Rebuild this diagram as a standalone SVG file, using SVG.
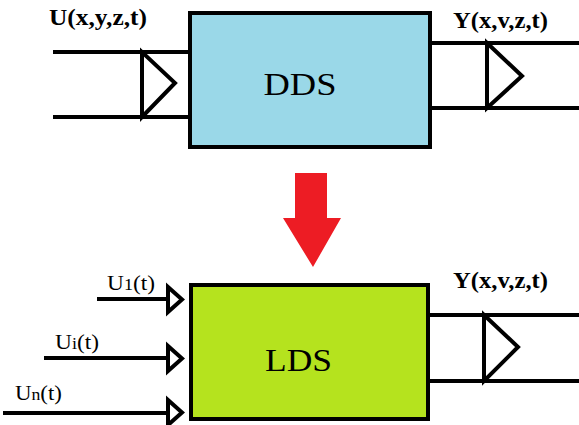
<svg xmlns="http://www.w3.org/2000/svg" width="579" height="425" viewBox="0 0 579 425">
<style>
.ln{stroke:#000;stroke-width:4;fill:none;stroke-linejoin:miter}
.box{stroke:#000;stroke-width:4}
.lbl{font-family:"Liberation Serif",serif;font-weight:bold;font-size:23px;fill:#000}
.sub{font-family:"Liberation Serif",serif;font-size:22px;fill:#000}
.big{font-family:"Liberation Serif",serif;font-size:31px;fill:#000}
</style>
<rect width="579" height="425" fill="#fff"/>
<g id="connectors">
  <path class="ln" d="M53 52H190M53 117H190M142 52V117L175 83Z"/>
  <path class="ln" d="M430 43H579M430 108H579M487 43V108L522 76Z"/>
  <path class="ln" d="M428 315H579M428 381H579M484 315V381L518 347Z"/>
  <path class="ln" d="M97 299H167M44 358H167M3 413H167"/>
  <path class="ln" d="M168 287V312L182 299.5Z"/>
  <path class="ln" d="M168 346V371L182 358.5Z"/>
  <path class="ln" d="M168 400V425L182 412.5Z"/>
  <polygon points="295,173 327,173 327,218 341,218 313,267 283,218 295,218" fill="#ED1C24"/>
</g>
<g id="dds">
  <rect class="box" x="190" y="13" width="240" height="134" fill="#9AD8E8"/>
  <text class="big" x="300" y="95" text-anchor="middle" textLength="73" lengthAdjust="spacingAndGlyphs">DDS</text>
</g>
<g id="lds">
  <rect class="box" x="191" y="285" width="237" height="134" fill="#B5E31E"/>
  <text class="big" x="298.5" y="371" text-anchor="middle" textLength="67" lengthAdjust="spacingAndGlyphs">LDS</text>
</g>
<g id="labels">
  <text class="lbl" x="49" y="25" textLength="98" lengthAdjust="spacingAndGlyphs">U(x,y,z,t)</text>
  <text class="lbl" x="453" y="28" textLength="95" lengthAdjust="spacingAndGlyphs">Y(x,v,z,t)</text>
  <text class="lbl" x="453" y="288" textLength="95" lengthAdjust="spacingAndGlyphs">Y(x,v,z,t)</text>
  <text class="sub" x="107" y="290" textLength="48" lengthAdjust="spacingAndGlyphs">U<tspan font-size="17">1</tspan>(t)</text>
  <text class="sub" x="55" y="349" textLength="44" lengthAdjust="spacingAndGlyphs">U<tspan font-size="17">i</tspan>(t)</text>
  <text class="sub" x="15" y="400" textLength="47" lengthAdjust="spacingAndGlyphs">U<tspan font-size="17">n</tspan>(t)</text>
</g>
</svg>
